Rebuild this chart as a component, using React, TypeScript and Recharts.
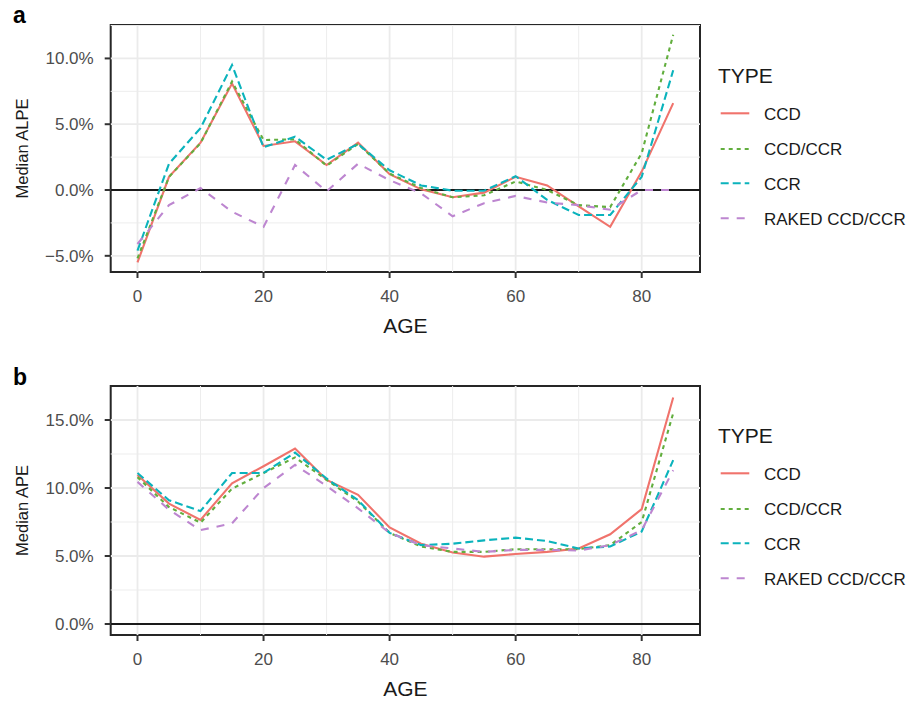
import React from "react";
import { LineChart, Line, XAxis, YAxis, ReferenceLine, ReferenceArea, Label } from "recharts";

// ---------- data ----------
const AGES = [0, 5, 10, 15, 20, 25, 30, 35, 40, 45, 50, 55, 60, 65, 70, 75, 80, 85];
const TYPES = ["CCD", "CCD/CCR", "CCR", "RAKED CCD/CCR"];

// Panel a: Median ALPE (%)
const ccdA = [-5.5, 1.0, 3.6, 8.1, 3.35, 3.7, 1.9, 3.6, 1.2, 0.05, -0.55, -0.2, 1.0, 0.35, -1.25, -2.8, 1.4, 6.6];
const ccdCcrA = [-5.2, 1.0, 3.55, 8.25, 3.8, 3.85, 1.85, 3.5, 1.25, 0.15, -0.55, -0.4, 0.65, 0.0, -1.15, -1.3, 2.8, 11.8];
const ccrA = [-4.6, 2.0, 4.7, 9.5, 3.25, 4.05, 2.3, 3.5, 1.5, 0.35, -0.05, -0.05, 1.05, -0.75, -1.9, -1.9, 1.0, 9.1];
const rakedA = [-4.1, -1.15, 0.15, -1.65, -2.8, 1.9, -0.1, 2.0, 0.75, -0.25, -2.0, -1.0, -0.45, -0.95, -1.15, -1.5, 0.0, 0.0];

// Panel b: Median APE (%)
const ccdB = [10.95, 8.85, 7.65, 10.35, 11.6, 12.9, 10.6, 9.5, 7.1, 5.9, 5.25, 4.95, 5.15, 5.3, 5.55, 6.6, 8.45, 16.65];
const ccdCcrB = [10.8, 8.6, 7.45, 9.95, 11.1, 12.25, 10.6, 9.0, 6.7, 5.7, 5.3, 5.3, 5.5, 5.5, 5.5, 5.8, 7.5, 15.5];
const ccrB = [11.1, 9.1, 8.3, 11.1, 11.1, 12.6, 10.7, 9.1, 6.7, 5.8, 5.9, 6.15, 6.35, 6.1, 5.55, 5.7, 6.8, 12.05];
const rakedB = [10.45, 8.4, 6.9, 7.4, 10.0, 11.7, 10.15, 8.5, 6.7, 5.8, 5.55, 5.3, 5.45, 5.45, 5.4, 5.8, 6.9, 11.3];

const X_TICKS = [0, 20, 40, 60, 80];
const X_MINOR = [10, 30, 50, 70];
const Y_TICKS_A = [-5, 0, 5, 10];
const Y_MINOR_A = [-2.5, 2.5, 7.5, 12.5];
const Y_TICKS_B = [0, 5, 10, 15];
const Y_MINOR_B = [2.5, 7.5, 12.5];

// ---------- styles ----------
const FONT = "'Liberation Sans', Arial, Helvetica, sans-serif";
const COLORS = ["#F0736C", "#62AE3E", "#0BB3BC", "#BD86D0"];
const DASHES = ["", "4 4", "8 4", "8 8"];
const LW = 2.1;
const X_DOMAIN: [number, number] = [-4.25, 89.25];

function rows(series: number[][]) {
  return AGES.map((age, i) => {
    const r: Record<string, number> = { age };
    TYPES.forEach((t, k) => {
      r[t] = series[k][i];
    });
    return r;
  });
}

const dataA = rows([ccdA, ccdCcrA, ccrA, rakedA]);
const dataB = rows([ccdB, ccdCcrB, ccrB, rakedB]);

const fmtPct = (v: number) => (v < 0 ? "\u2212" : "") + Math.abs(v).toFixed(1) + "%";

type PanelProps = {
  data: Record<string, number>[];
  yDomain: [number, number];
  yTicks: number[];
  yMinor: number[];
  yTitle: string;
  top: number;
  height: number;
  marginTop: number;
  xAxisHeight: number;
};

function Panel({ data, yDomain, yTicks, yMinor, yTitle, top, height, marginTop, xAxisHeight }: PanelProps) {
  return (
    <div style={{ position: "absolute", left: 0, top }}>
      <LineChart width={916} height={height} data={data} margin={{ top: marginTop, right: 216, left: 0, bottom: 0 }}>
        <XAxis
          dataKey="age"
          type="number"
          domain={X_DOMAIN}
          ticks={X_TICKS}
          allowDataOverflow
          height={xAxisHeight}
          axisLine={false}
          tickSize={6}
          tickMargin={12}
          tickLine={{ stroke: "#333333", strokeWidth: 2 }}
          tick={{ fill: "#4d4d4d", fontSize: 17, fontFamily: FONT }}
        >
          <Label
            content={(p: any) => {
              const vb = p.viewBox || {};
              return (
                <text x={vb.x + vb.width / 2} y={vb.y + 61} textAnchor="middle" fontSize={21} fontFamily={FONT} fill="#1a1a1a">
                  AGE
                </text>
              );
            }}
          />
        </XAxis>
        <YAxis
          type="number"
          domain={yDomain}
          ticks={yTicks}
          allowDataOverflow
          width={110.7}
          axisLine={false}
          tickSize={6}
          tickMargin={11}
          tickLine={{ stroke: "#333333", strokeWidth: 2 }}
          tickFormatter={fmtPct}
          tick={{ fill: "#4d4d4d", fontSize: 17, fontFamily: FONT }}
        >
          <Label
            content={(p: any) => {
              const vb = p.viewBox || {};
              const cy = vb.y + vb.height / 2;
              return (
                <text x={28} y={cy} transform={`rotate(-90 28 ${cy})`} textAnchor="middle" fontSize={16.5} fontFamily={FONT} fill="#1a1a1a">
                  {yTitle}
                </text>
              );
            }}
          />
        </YAxis>
        {X_MINOR.map((v) => (
          <ReferenceLine key={"xm" + v} x={v} stroke="#ededed" strokeWidth={1} />
        ))}
        {yMinor.map((v) => (
          <ReferenceLine key={"ym" + v} y={v} stroke="#ededed" strokeWidth={1} />
        ))}
        {X_TICKS.map((v) => (
          <ReferenceLine key={"xM" + v} x={v} stroke="#ebebeb" strokeWidth={1.8} />
        ))}
        {yTicks.map((v) => (
          <ReferenceLine key={"yM" + v} y={v} stroke="#ebebeb" strokeWidth={1.8} />
        ))}
        <ReferenceLine y={0} stroke="#1a1a1a" strokeWidth={2} />
        {TYPES.map((t, k) => (
          <Line
            key={t}
            dataKey={t}
            type="linear"
            stroke={COLORS[k]}
            strokeWidth={LW}
            strokeDasharray={DASHES[k] || undefined}
            dot={false}
            activeDot={false}
            isAnimationActive={false}
          />
        ))}
        <ReferenceArea
          x1={X_DOMAIN[0]}
          x2={X_DOMAIN[1]}
          y1={yDomain[0]}
          y2={yDomain[1]}
          fill="none"
          fillOpacity={0}
          stroke="#262626"
          strokeWidth={2}
          ifOverflow="visible"
        />
      </LineChart>
    </div>
  );
}

function LegendBox({ top }: { top: number }) {
  const keyY = [63.3, 99, 133.3, 168.3];
  return (
    <svg style={{ position: "absolute", left: 700, top }} width={216} height={190}>
      <text x={18} y={33.3} fontSize={21} fontFamily={FONT} fill="#1a1a1a">
        TYPE
      </text>
      {TYPES.map((t, k) => (
        <g key={t}>
          <line
            x1={20.7}
            x2={49.3}
            y1={keyY[k]}
            y2={keyY[k]}
            stroke={COLORS[k]}
            strokeWidth={LW}
            strokeDasharray={DASHES[k] || undefined}
          />
          <text x={64} y={keyY[k] + 6.2} fontSize={17} fontFamily={FONT} fill="#1a1a1a">
            {t}
          </text>
        </g>
      ))}
    </svg>
  );
}

export default function App() {
  return (
    <div style={{ position: "absolute", left: 0, top: 0, width: 916, height: 701, background: "#ffffff", overflow: "hidden" }}>
      <Panel
        data={dataA}
        yDomain={[-6.23, 12.54]}
        yTicks={Y_TICKS_A}
        yMinor={Y_MINOR_A}
        yTitle="Median ALPE"
        top={0}
        height={340}
        marginTop={25}
        xAxisHeight={68}
      />
      <Panel
        data={dataB}
        yDomain={[-0.81, 17.5]}
        yTicks={Y_TICKS_B}
        yMinor={Y_MINOR_B}
        yTitle="Median APE"
        top={350}
        height={351}
        marginTop={36}
        xAxisHeight={66}
      />
      <LegendBox top={50} />
      <LegendBox top={410} />
      <svg style={{ position: "absolute", left: 0, top: 0, pointerEvents: "none" }} width={60} height={400}>
        <text x={13} y={23} fontSize={23} fontWeight="bold" fontFamily={FONT} fill="#000">
          a
        </text>
        <text x={13} y={385} fontSize={23} fontWeight="bold" fontFamily={FONT} fill="#000">
          b
        </text>
      </svg>
    </div>
  );
}
